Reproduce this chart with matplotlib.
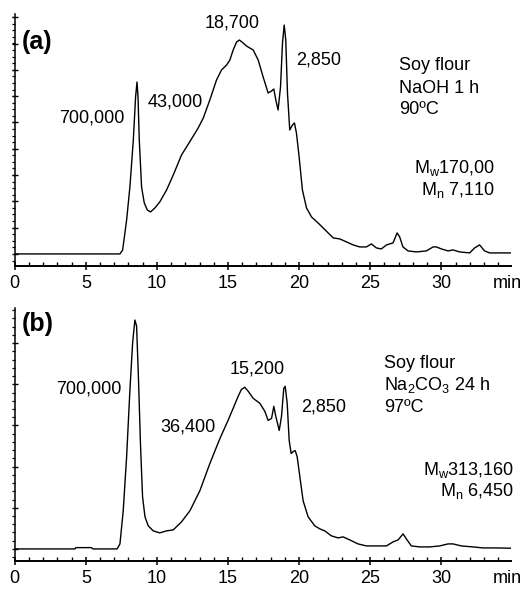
import numpy as np
import matplotlib
matplotlib.use('Agg')
import matplotlib.pyplot as plt
from matplotlib.ticker import MultipleLocator

plt.rcParams['font.family'] = ['Liberation Sans', 'DejaVu Sans']
plt.rcParams['mathtext.fontset'] = 'custom'
plt.rcParams['mathtext.rm'] = 'Liberation Sans'
plt.rcParams['mathtext.it'] = 'Liberation Sans'

# (a) soy flour, NaOH 1 h, 90 C  -- retention time (min) / detector response (a.u.)
time_a = [0, 7.4, 7.59, 7.87, 8.1, 8.34, 8.5, 8.6, 8.67, 8.76, 8.92, 9.11, 9.32, 9.55,
          9.86, 10.2, 10.68, 11.15, 11.73, 12.3, 12.9, 13.26, 13.72, 14.19, 14.54, 14.9,
          15.13, 15.36, 15.6, 15.8, 16.07, 16.3, 16.77, 17.12, 17.47, 17.82, 18.06, 18.22,
          18.36, 18.52, 18.69, 18.83, 18.95, 19.06, 19.18, 19.34, 19.53, 19.67, 19.81, 20.0,
          20.23, 20.52, 20.87, 21.33, 21.69, 22.04, 22.4, 22.86, 23.33, 23.8, 24.26, 24.73,
          25.08, 25.43, 25.78, 26.14, 26.6, 26.89, 27.07, 27.3, 27.66, 28.24, 28.95, 29.42,
          29.65, 30.0, 30.47, 30.82, 31.29, 31.99, 32.34, 32.69, 33.04, 33.4, 34.87]
resp_a = [0, 0, 4, 34, 67, 114, 157, 172, 157, 114, 67, 51, 44, 42,
          46, 52, 64, 79, 99, 112, 126, 136, 154, 174, 184, 189,
          194, 204, 212, 214, 211, 208, 204, 194, 177, 161, 163, 165,
          154, 144, 167, 211, 229, 214, 161, 124, 129, 131, 121, 97,
          64, 46, 37, 31, 26, 21, 16, 15, 12, 9, 7, 7,
          10, 6, 5, 9, 11, 21, 17, 7, 3, 2, 3, 7,
          7, 5, 3, 4, 2, 1, 6, 9, 3, 1, 1]

# (b) soy flour, Na2CO3 24 h, 97 C
time_b = [0, 4.24, 4.3, 5.4, 5.5, 7.2, 7.4, 7.63, 7.87, 8.1, 8.29, 8.45, 8.57, 8.69,
          8.85, 8.99, 9.16, 9.39, 9.74, 10.2, 10.68, 11.15, 11.73, 12.32, 13.02, 13.72,
          14.43, 15.0, 15.36, 15.71, 15.95, 16.18, 16.42, 16.77, 17.24, 17.59, 17.82, 18.06,
          18.22, 18.36, 18.6, 18.76, 18.92, 19.02, 19.16, 19.3, 19.44, 19.58, 19.72, 19.86,
          20.05, 20.28, 20.63, 21.1, 21.45, 21.8, 22.27, 22.74, 23.09, 23.56, 24.14, 24.73,
          25.43, 26.14, 26.6, 26.96, 27.31, 27.54, 27.89, 28.48, 29.18, 29.88, 30.47, 30.82,
          31.4, 32.22, 32.93, 33.86, 34.87]
resp_b = [0, 0, 1.3, 1.3, 0, 0, 5, 38, 92, 158, 205, 228, 222, 175,
          102, 52, 32, 23, 18, 16, 18, 19, 27, 38, 58, 85,
          110, 128, 140, 152, 159, 161, 157, 150, 145, 137, 128, 130,
          142, 132, 118, 132, 160, 162, 145, 108, 95, 97, 98, 92,
          72, 48, 32, 23, 20, 18, 13, 11, 12, 9, 5, 3,
          3, 3, 7, 9, 15, 10, 3, 2, 2, 3, 5, 5,
          3, 2, 1, 1, 0.7]

tick_values = [0, 5, 10, 15, 20, 25, 30]

panels = [
    dict(t=time_a, r=resp_a, tag='(a)', tag_y=212, ymaj=26.3, ymin=6.58,
         peaks=[('700,000', 5.45, 136), ('43,000', 11.27, 152), ('18,700', 15.32, 231), ('2,850', 21.38, 194)],
         cond_x=27.0, cond=[('Soy flour', 189), ('NaOH 1 h', 166), ('90ºC', 144)],
         mx=33.8, mw=('M$_\\mathrm{w}$170,00', 86), mn=('M$_\\mathrm{n}$ 7,110', 64)),
    dict(t=time_b, r=resp_b, tag='(b)', tag_y=224, ymaj=41.0, ymin=8.2,
         peaks=[('700,000', 5.24, 159), ('15,200', 17.05, 179), ('36,400', 12.2, 121), ('2,850', 21.69, 141)],
         cond_x=25.97, cond=[('Soy flour', 185), ('Na$_2$CO$_3$ 24 h', 163), ('97ºC', 141)],
         mx=35.1, mw=('M$_\\mathrm{w}$313,160', 79), mn=('M$_\\mathrm{n}$ 6,450', 58)),
]

fig = plt.figure(figsize=(5.31, 5.90), dpi=100)
rects = [[0.0277, 0.5498, 0.9347, 0.4264], [0.0277, 0.0497, 0.9347, 0.4283]]

fs = 13
for p, rect in zip(panels, rects):
    ax = fig.add_axes(rect)
    ax.plot(p['t'], p['r'], color='black', lw=1.0)
    ax.set_xlim(0, 34.9)
    ax.set_ylim(-11.7, 240)
    for s in ['top', 'right']:
        ax.spines[s].set_visible(False)
    ax.spines['left'].set_linewidth(1.1)
    ax.spines['bottom'].set_linewidth(1.4)

    ax.set_xticks(tick_values)
    ax.xaxis.set_minor_locator(MultipleLocator(1))
    ax.tick_params(axis='x', which='major', direction='inout', length=6, width=1.1,
                   labelsize=fs, pad=3.5)
    ax.tick_params(axis='x', which='minor', direction='in', length=3, width=1.0)

    ax.yaxis.set_major_locator(MultipleLocator(p['ymaj']))
    ax.yaxis.set_minor_locator(MultipleLocator(p['ymin']))
    ax.tick_params(axis='y', which='major', direction='inout', length=5, width=1.0,
                   labelleft=False)
    ax.tick_params(axis='y', which='minor', direction='out', length=2.5, width=0.9)

    ax.text(33.6, -0.087, 'min', transform=ax.get_xaxis_transform(),
            ha='left', va='baseline', fontsize=fs)
    ax.text(0.51, p['tag_y'], p['tag'], fontsize=18, fontweight='bold',
            ha='left', va='center')
    for lab, x, y in p['peaks']:
        ax.text(x, y, lab, fontsize=fs, ha='center', va='center')
    for lab, y in p['cond']:
        ax.text(p['cond_x'], y, lab, fontsize=fs, ha='left', va='center')
    ax.text(p['mx'], p['mw'][1], p['mw'][0], fontsize=fs, ha='right', va='center')
    ax.text(p['mx'], p['mn'][1], p['mn'][0], fontsize=fs, ha='right', va='center')

fig.savefig('out.png', dpi=100)
